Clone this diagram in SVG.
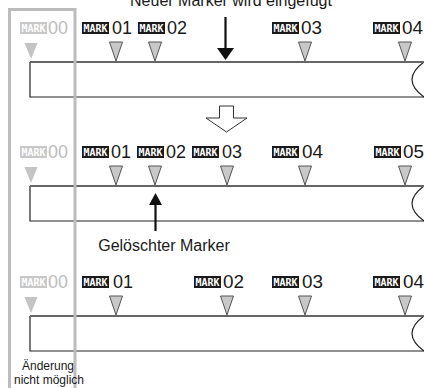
<svg xmlns="http://www.w3.org/2000/svg" xmlns:xlink="http://www.w3.org/1999/xlink" width="424" height="388" viewBox="0 0 424 388">
<style>
.t{font-family:"Liberation Sans",Arial,sans-serif;fill:#1a1a1a}
.dg{font-family:"Liberation Sans",Arial,sans-serif;font-size:19px;fill:#1a1a1a}
.dg0{font-family:"Liberation Sans",Arial,sans-serif;font-size:19px;fill:#bdbdbd}
.mk{font-family:"DejaVu Sans Mono","Liberation Mono",monospace;font-size:11px;font-weight:bold;fill:#fff}
.strip{fill:#fff;stroke:none}
.edge{fill:none;stroke:#222;stroke-width:1.2}
.topl{fill:none;stroke:#666;stroke-width:1.8}
.tri{fill:#c8c8c8;stroke:#555;stroke-width:1}
.tri0{fill:#c4c4c4;stroke:none}
</style>
<defs>
<g id="mbox"><rect x="0" y="0" width="27" height="12" fill="#1a1a1a"/><text class="mk" x="13.5" y="10" text-anchor="middle" textLength="24" lengthAdjust="spacingAndGlyphs">MARK</text></g>
<g id="mbox0"><rect x="0" y="0" width="27" height="12" fill="#c8c8c8"/><text class="mk" x="13.5" y="10" text-anchor="middle" textLength="24" lengthAdjust="spacingAndGlyphs">MARK</text></g>
<path id="tri" class="tri" d="M-6.5,0 L6.5,0 L0,19 Z"/>
<path id="tri0" class="tri0" d="M-6.5,0 L6.5,0 L0,16 Z"/>
<g id="stripShape">
<rect class="strip" x="30" y="0" width="394" height="35"/>
<path class="edge" d="M424,0 Q400,17.5 424,35"/>
<path class="edge" d="M30,0 L30,35 L424,35"/>
<path class="topl" d="M30,0 L424,0"/>
</g>
</defs>

<text class="t" x="231" y="6" font-size="16" text-anchor="middle">Neuer Marker wird eingefügt</text>

<g id="row1">
<use xlink:href="#stripShape" y="62"/>
<use xlink:href="#mbox0" x="20" y="22"/><text class="dg0" x="48" y="34" textLength="20" lengthAdjust="spacingAndGlyphs">00</text>
<use xlink:href="#mbox" x="82" y="22"/><text class="dg" x="112" y="34" textLength="20" lengthAdjust="spacingAndGlyphs">01</text>
<use xlink:href="#mbox" x="138" y="22"/><text class="dg" x="167" y="34" textLength="20" lengthAdjust="spacingAndGlyphs">02</text>
<use xlink:href="#mbox" x="272" y="22"/><text class="dg" x="301" y="34" textLength="21" lengthAdjust="spacingAndGlyphs">03</text>
<use xlink:href="#mbox" x="373" y="22"/><text class="dg" x="402" y="34" textLength="21" lengthAdjust="spacingAndGlyphs">04</text>
<use xlink:href="#tri0" x="31" y="43"/>
<use xlink:href="#tri" x="116" y="42"/>
<use xlink:href="#tri" x="155" y="42"/>
<use xlink:href="#tri" x="305" y="42"/>
<use xlink:href="#tri" x="405" y="42"/>
</g>

<g id="row2">
<use xlink:href="#stripShape" y="186"/>
<use xlink:href="#mbox0" x="20" y="146"/><text class="dg0" x="48" y="158" textLength="20" lengthAdjust="spacingAndGlyphs">00</text>
<use xlink:href="#mbox" x="82" y="146"/><text class="dg" x="111" y="158" textLength="20" lengthAdjust="spacingAndGlyphs">01</text>
<use xlink:href="#mbox" x="137" y="146"/><text class="dg" x="166" y="158" textLength="20" lengthAdjust="spacingAndGlyphs">02</text>
<use xlink:href="#mbox" x="192" y="146"/><text class="dg" x="222" y="158" textLength="20" lengthAdjust="spacingAndGlyphs">03</text>
<use xlink:href="#mbox" x="272" y="146"/><text class="dg" x="302" y="158" textLength="21" lengthAdjust="spacingAndGlyphs">04</text>
<use xlink:href="#mbox" x="374" y="146"/><text class="dg" x="403" y="158" textLength="21" lengthAdjust="spacingAndGlyphs">05</text>
<use xlink:href="#tri0" x="31" y="167"/>
<use xlink:href="#tri" x="116" y="166"/>
<use xlink:href="#tri" x="155" y="166"/>
<use xlink:href="#tri" x="227" y="166"/>
<use xlink:href="#tri" x="305" y="166"/>
<use xlink:href="#tri" x="405" y="166"/>
</g>

<g id="row3">
<use xlink:href="#stripShape" y="316"/>
<use xlink:href="#mbox0" x="20" y="276"/><text class="dg0" x="48" y="288" textLength="20" lengthAdjust="spacingAndGlyphs">00</text>
<use xlink:href="#mbox" x="82" y="276"/><text class="dg" x="113" y="288" textLength="20" lengthAdjust="spacingAndGlyphs">01</text>
<use xlink:href="#mbox" x="194" y="276"/><text class="dg" x="223" y="288" textLength="21" lengthAdjust="spacingAndGlyphs">02</text>
<use xlink:href="#mbox" x="272" y="276"/><text class="dg" x="302" y="288" textLength="21" lengthAdjust="spacingAndGlyphs">03</text>
<use xlink:href="#mbox" x="373" y="276"/><text class="dg" x="403" y="288" textLength="21" lengthAdjust="spacingAndGlyphs">04</text>
<use xlink:href="#tri0" x="31" y="297"/>
<use xlink:href="#tri" x="116" y="296"/>
<use xlink:href="#tri" x="227" y="296"/>
<use xlink:href="#tri" x="305" y="296"/>
<use xlink:href="#tri" x="405" y="296"/>
</g>

<g id="connectors">
<line x1="225.5" y1="17" x2="225.5" y2="50" stroke="#111" stroke-width="2.2"/>
<path d="M217,48 L234,48 L225.5,60 Z" fill="#111"/>
<path d="M219.5,106 L233.5,106 L233.5,118 L247,118 L226.5,132 L206,118 L219.5,118 Z" fill="#fff" stroke="#333" stroke-width="1"/>
<line x1="155.5" y1="203" x2="155.5" y2="231" stroke="#111" stroke-width="2.2"/>
<path d="M149,205 L162,205 L155.5,193 Z" fill="#111"/>
</g>

<text class="t" x="164" y="251" font-size="16" text-anchor="middle">Gelöschter Marker</text>

<g id="fixed">
<path d="M9.5,396 L9.5,9.5 L75,9.5 L75,396" fill="none" stroke="#bcbcbc" stroke-width="3"/>
<text class="t" x="48" y="370" font-size="12" text-anchor="middle">Änderung</text>
<text class="t" x="49" y="384" font-size="12" text-anchor="middle">nicht möglich</text>
</g>
</svg>
